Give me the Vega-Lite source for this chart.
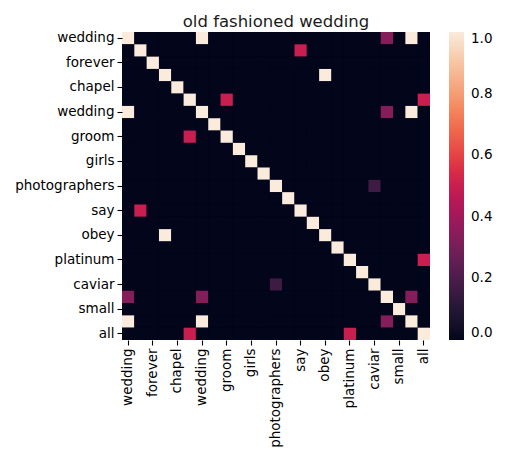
{
  "$schema": "https://vega.github.io/schema/vega-lite/v6.json",
  "autosize": {"type": "none"},
  "padding": {"left": 122, "top": 32, "right": 76, "bottom": 122},
  "width": 308,
  "height": 308,
  "background": "white",
  "config": {
    "font": "DejaVu Sans",
    "view": {"stroke": null, "fill": "#03051a"},
    "axis": {
      "labelFont": "DejaVu Sans",
      "labelFontSize": 13.5,
      "labelColor": "#000",
      "tickColor": "#000",
      "tickSize": 5,
      "tickWidth": 1.1,
      "domain": false,
      "grid": false,
      "title": null,
      "labelPadding": 3
    }
  },
  "title": {
    "text": "old fashioned wedding",
    "fontSize": 16.5,
    "fontWeight": "normal",
    "font": "DejaVu Sans",
    "color": "#1a1a1a",
    "baseline": "alphabetic",
    "offset": 8,
    "dy": 21
  },
  "data": {
    "values": [
      {"r":0,"c":0,"v":1},{"r":0,"c":1,"v":0},{"r":0,"c":2,"v":0},{"r":0,"c":3,"v":0},{"r":0,"c":4,"v":0},{"r":0,"c":5,"v":0},{"r":0,"c":6,"v":1},{"r":0,"c":7,"v":0},{"r":0,"c":8,"v":0},{"r":0,"c":9,"v":0},{"r":0,"c":10,"v":0},{"r":0,"c":11,"v":0},{"r":0,"c":12,"v":0},{"r":0,"c":13,"v":0},{"r":0,"c":14,"v":0},{"r":0,"c":15,"v":0},{"r":0,"c":16,"v":0},{"r":0,"c":17,"v":0},{"r":0,"c":18,"v":0},{"r":0,"c":19,"v":0},{"r":0,"c":20,"v":0},{"r":0,"c":21,"v":0.333},{"r":0,"c":22,"v":0},{"r":0,"c":23,"v":1},{"r":0,"c":24,"v":0},
      {"r":1,"c":0,"v":0},{"r":1,"c":1,"v":1},{"r":1,"c":2,"v":0},{"r":1,"c":3,"v":0},{"r":1,"c":4,"v":0},{"r":1,"c":5,"v":0},{"r":1,"c":6,"v":0},{"r":1,"c":7,"v":0},{"r":1,"c":8,"v":0},{"r":1,"c":9,"v":0},{"r":1,"c":10,"v":0},{"r":1,"c":11,"v":0},{"r":1,"c":12,"v":0},{"r":1,"c":13,"v":0},{"r":1,"c":14,"v":0.5},{"r":1,"c":15,"v":0},{"r":1,"c":16,"v":0},{"r":1,"c":17,"v":0},{"r":1,"c":18,"v":0},{"r":1,"c":19,"v":0},{"r":1,"c":20,"v":0},{"r":1,"c":21,"v":0},{"r":1,"c":22,"v":0},{"r":1,"c":23,"v":0},{"r":1,"c":24,"v":0},
      {"r":2,"c":0,"v":0},{"r":2,"c":1,"v":0},{"r":2,"c":2,"v":1},{"r":2,"c":3,"v":0},{"r":2,"c":4,"v":0},{"r":2,"c":5,"v":0},{"r":2,"c":6,"v":0},{"r":2,"c":7,"v":0},{"r":2,"c":8,"v":0},{"r":2,"c":9,"v":0},{"r":2,"c":10,"v":0},{"r":2,"c":11,"v":0},{"r":2,"c":12,"v":0},{"r":2,"c":13,"v":0},{"r":2,"c":14,"v":0},{"r":2,"c":15,"v":0},{"r":2,"c":16,"v":0},{"r":2,"c":17,"v":0},{"r":2,"c":18,"v":0},{"r":2,"c":19,"v":0},{"r":2,"c":20,"v":0},{"r":2,"c":21,"v":0},{"r":2,"c":22,"v":0},{"r":2,"c":23,"v":0},{"r":2,"c":24,"v":0},
      {"r":3,"c":0,"v":0},{"r":3,"c":1,"v":0},{"r":3,"c":2,"v":0},{"r":3,"c":3,"v":1},{"r":3,"c":4,"v":0},{"r":3,"c":5,"v":0},{"r":3,"c":6,"v":0},{"r":3,"c":7,"v":0},{"r":3,"c":8,"v":0},{"r":3,"c":9,"v":0},{"r":3,"c":10,"v":0},{"r":3,"c":11,"v":0},{"r":3,"c":12,"v":0},{"r":3,"c":13,"v":0},{"r":3,"c":14,"v":0},{"r":3,"c":15,"v":0},{"r":3,"c":16,"v":1},{"r":3,"c":17,"v":0},{"r":3,"c":18,"v":0},{"r":3,"c":19,"v":0},{"r":3,"c":20,"v":0},{"r":3,"c":21,"v":0},{"r":3,"c":22,"v":0},{"r":3,"c":23,"v":0},{"r":3,"c":24,"v":0},
      {"r":4,"c":0,"v":0},{"r":4,"c":1,"v":0},{"r":4,"c":2,"v":0},{"r":4,"c":3,"v":0},{"r":4,"c":4,"v":1},{"r":4,"c":5,"v":0},{"r":4,"c":6,"v":0},{"r":4,"c":7,"v":0},{"r":4,"c":8,"v":0},{"r":4,"c":9,"v":0},{"r":4,"c":10,"v":0},{"r":4,"c":11,"v":0},{"r":4,"c":12,"v":0},{"r":4,"c":13,"v":0},{"r":4,"c":14,"v":0},{"r":4,"c":15,"v":0},{"r":4,"c":16,"v":0},{"r":4,"c":17,"v":0},{"r":4,"c":18,"v":0},{"r":4,"c":19,"v":0},{"r":4,"c":20,"v":0},{"r":4,"c":21,"v":0},{"r":4,"c":22,"v":0},{"r":4,"c":23,"v":0},{"r":4,"c":24,"v":0},
      {"r":5,"c":0,"v":0},{"r":5,"c":1,"v":0},{"r":5,"c":2,"v":0},{"r":5,"c":3,"v":0},{"r":5,"c":4,"v":0},{"r":5,"c":5,"v":1},{"r":5,"c":6,"v":0},{"r":5,"c":7,"v":0},{"r":5,"c":8,"v":0.5},{"r":5,"c":9,"v":0},{"r":5,"c":10,"v":0},{"r":5,"c":11,"v":0},{"r":5,"c":12,"v":0},{"r":5,"c":13,"v":0},{"r":5,"c":14,"v":0},{"r":5,"c":15,"v":0},{"r":5,"c":16,"v":0},{"r":5,"c":17,"v":0},{"r":5,"c":18,"v":0},{"r":5,"c":19,"v":0},{"r":5,"c":20,"v":0},{"r":5,"c":21,"v":0},{"r":5,"c":22,"v":0},{"r":5,"c":23,"v":0},{"r":5,"c":24,"v":0.5},
      {"r":6,"c":0,"v":1},{"r":6,"c":1,"v":0},{"r":6,"c":2,"v":0},{"r":6,"c":3,"v":0},{"r":6,"c":4,"v":0},{"r":6,"c":5,"v":0},{"r":6,"c":6,"v":1},{"r":6,"c":7,"v":0},{"r":6,"c":8,"v":0},{"r":6,"c":9,"v":0},{"r":6,"c":10,"v":0},{"r":6,"c":11,"v":0},{"r":6,"c":12,"v":0},{"r":6,"c":13,"v":0},{"r":6,"c":14,"v":0},{"r":6,"c":15,"v":0},{"r":6,"c":16,"v":0},{"r":6,"c":17,"v":0},{"r":6,"c":18,"v":0},{"r":6,"c":19,"v":0},{"r":6,"c":20,"v":0},{"r":6,"c":21,"v":0.333},{"r":6,"c":22,"v":0},{"r":6,"c":23,"v":1},{"r":6,"c":24,"v":0},
      {"r":7,"c":0,"v":0},{"r":7,"c":1,"v":0},{"r":7,"c":2,"v":0},{"r":7,"c":3,"v":0},{"r":7,"c":4,"v":0},{"r":7,"c":5,"v":0},{"r":7,"c":6,"v":0},{"r":7,"c":7,"v":1},{"r":7,"c":8,"v":0},{"r":7,"c":9,"v":0},{"r":7,"c":10,"v":0},{"r":7,"c":11,"v":0},{"r":7,"c":12,"v":0},{"r":7,"c":13,"v":0},{"r":7,"c":14,"v":0},{"r":7,"c":15,"v":0},{"r":7,"c":16,"v":0},{"r":7,"c":17,"v":0},{"r":7,"c":18,"v":0},{"r":7,"c":19,"v":0},{"r":7,"c":20,"v":0},{"r":7,"c":21,"v":0},{"r":7,"c":22,"v":0},{"r":7,"c":23,"v":0},{"r":7,"c":24,"v":0},
      {"r":8,"c":0,"v":0},{"r":8,"c":1,"v":0},{"r":8,"c":2,"v":0},{"r":8,"c":3,"v":0},{"r":8,"c":4,"v":0},{"r":8,"c":5,"v":0.5},{"r":8,"c":6,"v":0},{"r":8,"c":7,"v":0},{"r":8,"c":8,"v":1},{"r":8,"c":9,"v":0},{"r":8,"c":10,"v":0},{"r":8,"c":11,"v":0},{"r":8,"c":12,"v":0},{"r":8,"c":13,"v":0},{"r":8,"c":14,"v":0},{"r":8,"c":15,"v":0},{"r":8,"c":16,"v":0},{"r":8,"c":17,"v":0},{"r":8,"c":18,"v":0},{"r":8,"c":19,"v":0},{"r":8,"c":20,"v":0},{"r":8,"c":21,"v":0},{"r":8,"c":22,"v":0},{"r":8,"c":23,"v":0},{"r":8,"c":24,"v":0},
      {"r":9,"c":0,"v":0},{"r":9,"c":1,"v":0},{"r":9,"c":2,"v":0},{"r":9,"c":3,"v":0},{"r":9,"c":4,"v":0},{"r":9,"c":5,"v":0},{"r":9,"c":6,"v":0},{"r":9,"c":7,"v":0},{"r":9,"c":8,"v":0},{"r":9,"c":9,"v":1},{"r":9,"c":10,"v":0},{"r":9,"c":11,"v":0},{"r":9,"c":12,"v":0},{"r":9,"c":13,"v":0},{"r":9,"c":14,"v":0},{"r":9,"c":15,"v":0},{"r":9,"c":16,"v":0},{"r":9,"c":17,"v":0},{"r":9,"c":18,"v":0},{"r":9,"c":19,"v":0},{"r":9,"c":20,"v":0},{"r":9,"c":21,"v":0},{"r":9,"c":22,"v":0},{"r":9,"c":23,"v":0},{"r":9,"c":24,"v":0},
      {"r":10,"c":0,"v":0},{"r":10,"c":1,"v":0},{"r":10,"c":2,"v":0},{"r":10,"c":3,"v":0},{"r":10,"c":4,"v":0},{"r":10,"c":5,"v":0},{"r":10,"c":6,"v":0},{"r":10,"c":7,"v":0},{"r":10,"c":8,"v":0},{"r":10,"c":9,"v":0},{"r":10,"c":10,"v":1},{"r":10,"c":11,"v":0},{"r":10,"c":12,"v":0},{"r":10,"c":13,"v":0},{"r":10,"c":14,"v":0},{"r":10,"c":15,"v":0},{"r":10,"c":16,"v":0},{"r":10,"c":17,"v":0},{"r":10,"c":18,"v":0},{"r":10,"c":19,"v":0},{"r":10,"c":20,"v":0},{"r":10,"c":21,"v":0},{"r":10,"c":22,"v":0},{"r":10,"c":23,"v":0},{"r":10,"c":24,"v":0},
      {"r":11,"c":0,"v":0},{"r":11,"c":1,"v":0},{"r":11,"c":2,"v":0},{"r":11,"c":3,"v":0},{"r":11,"c":4,"v":0},{"r":11,"c":5,"v":0},{"r":11,"c":6,"v":0},{"r":11,"c":7,"v":0},{"r":11,"c":8,"v":0},{"r":11,"c":9,"v":0},{"r":11,"c":10,"v":0},{"r":11,"c":11,"v":1},{"r":11,"c":12,"v":0},{"r":11,"c":13,"v":0},{"r":11,"c":14,"v":0},{"r":11,"c":15,"v":0},{"r":11,"c":16,"v":0},{"r":11,"c":17,"v":0},{"r":11,"c":18,"v":0},{"r":11,"c":19,"v":0},{"r":11,"c":20,"v":0},{"r":11,"c":21,"v":0},{"r":11,"c":22,"v":0},{"r":11,"c":23,"v":0},{"r":11,"c":24,"v":0},
      {"r":12,"c":0,"v":0},{"r":12,"c":1,"v":0},{"r":12,"c":2,"v":0},{"r":12,"c":3,"v":0},{"r":12,"c":4,"v":0},{"r":12,"c":5,"v":0},{"r":12,"c":6,"v":0},{"r":12,"c":7,"v":0},{"r":12,"c":8,"v":0},{"r":12,"c":9,"v":0},{"r":12,"c":10,"v":0},{"r":12,"c":11,"v":0},{"r":12,"c":12,"v":1},{"r":12,"c":13,"v":0},{"r":12,"c":14,"v":0},{"r":12,"c":15,"v":0},{"r":12,"c":16,"v":0},{"r":12,"c":17,"v":0},{"r":12,"c":18,"v":0},{"r":12,"c":19,"v":0},{"r":12,"c":20,"v":0.167},{"r":12,"c":21,"v":0},{"r":12,"c":22,"v":0},{"r":12,"c":23,"v":0},{"r":12,"c":24,"v":0},
      {"r":13,"c":0,"v":0},{"r":13,"c":1,"v":0},{"r":13,"c":2,"v":0},{"r":13,"c":3,"v":0},{"r":13,"c":4,"v":0},{"r":13,"c":5,"v":0},{"r":13,"c":6,"v":0},{"r":13,"c":7,"v":0},{"r":13,"c":8,"v":0},{"r":13,"c":9,"v":0},{"r":13,"c":10,"v":0},{"r":13,"c":11,"v":0},{"r":13,"c":12,"v":0},{"r":13,"c":13,"v":1},{"r":13,"c":14,"v":0},{"r":13,"c":15,"v":0},{"r":13,"c":16,"v":0},{"r":13,"c":17,"v":0},{"r":13,"c":18,"v":0},{"r":13,"c":19,"v":0},{"r":13,"c":20,"v":0},{"r":13,"c":21,"v":0},{"r":13,"c":22,"v":0},{"r":13,"c":23,"v":0},{"r":13,"c":24,"v":0},
      {"r":14,"c":0,"v":0},{"r":14,"c":1,"v":0.5},{"r":14,"c":2,"v":0},{"r":14,"c":3,"v":0},{"r":14,"c":4,"v":0},{"r":14,"c":5,"v":0},{"r":14,"c":6,"v":0},{"r":14,"c":7,"v":0},{"r":14,"c":8,"v":0},{"r":14,"c":9,"v":0},{"r":14,"c":10,"v":0},{"r":14,"c":11,"v":0},{"r":14,"c":12,"v":0},{"r":14,"c":13,"v":0},{"r":14,"c":14,"v":1},{"r":14,"c":15,"v":0},{"r":14,"c":16,"v":0},{"r":14,"c":17,"v":0},{"r":14,"c":18,"v":0},{"r":14,"c":19,"v":0},{"r":14,"c":20,"v":0},{"r":14,"c":21,"v":0},{"r":14,"c":22,"v":0},{"r":14,"c":23,"v":0},{"r":14,"c":24,"v":0},
      {"r":15,"c":0,"v":0},{"r":15,"c":1,"v":0},{"r":15,"c":2,"v":0},{"r":15,"c":3,"v":0},{"r":15,"c":4,"v":0},{"r":15,"c":5,"v":0},{"r":15,"c":6,"v":0},{"r":15,"c":7,"v":0},{"r":15,"c":8,"v":0},{"r":15,"c":9,"v":0},{"r":15,"c":10,"v":0},{"r":15,"c":11,"v":0},{"r":15,"c":12,"v":0},{"r":15,"c":13,"v":0},{"r":15,"c":14,"v":0},{"r":15,"c":15,"v":1},{"r":15,"c":16,"v":0},{"r":15,"c":17,"v":0},{"r":15,"c":18,"v":0},{"r":15,"c":19,"v":0},{"r":15,"c":20,"v":0},{"r":15,"c":21,"v":0},{"r":15,"c":22,"v":0},{"r":15,"c":23,"v":0},{"r":15,"c":24,"v":0},
      {"r":16,"c":0,"v":0},{"r":16,"c":1,"v":0},{"r":16,"c":2,"v":0},{"r":16,"c":3,"v":1},{"r":16,"c":4,"v":0},{"r":16,"c":5,"v":0},{"r":16,"c":6,"v":0},{"r":16,"c":7,"v":0},{"r":16,"c":8,"v":0},{"r":16,"c":9,"v":0},{"r":16,"c":10,"v":0},{"r":16,"c":11,"v":0},{"r":16,"c":12,"v":0},{"r":16,"c":13,"v":0},{"r":16,"c":14,"v":0},{"r":16,"c":15,"v":0},{"r":16,"c":16,"v":1},{"r":16,"c":17,"v":0},{"r":16,"c":18,"v":0},{"r":16,"c":19,"v":0},{"r":16,"c":20,"v":0},{"r":16,"c":21,"v":0},{"r":16,"c":22,"v":0},{"r":16,"c":23,"v":0},{"r":16,"c":24,"v":0},
      {"r":17,"c":0,"v":0},{"r":17,"c":1,"v":0},{"r":17,"c":2,"v":0},{"r":17,"c":3,"v":0},{"r":17,"c":4,"v":0},{"r":17,"c":5,"v":0},{"r":17,"c":6,"v":0},{"r":17,"c":7,"v":0},{"r":17,"c":8,"v":0},{"r":17,"c":9,"v":0},{"r":17,"c":10,"v":0},{"r":17,"c":11,"v":0},{"r":17,"c":12,"v":0},{"r":17,"c":13,"v":0},{"r":17,"c":14,"v":0},{"r":17,"c":15,"v":0},{"r":17,"c":16,"v":0},{"r":17,"c":17,"v":1},{"r":17,"c":18,"v":0},{"r":17,"c":19,"v":0},{"r":17,"c":20,"v":0},{"r":17,"c":21,"v":0},{"r":17,"c":22,"v":0},{"r":17,"c":23,"v":0},{"r":17,"c":24,"v":0},
      {"r":18,"c":0,"v":0},{"r":18,"c":1,"v":0},{"r":18,"c":2,"v":0},{"r":18,"c":3,"v":0},{"r":18,"c":4,"v":0},{"r":18,"c":5,"v":0},{"r":18,"c":6,"v":0},{"r":18,"c":7,"v":0},{"r":18,"c":8,"v":0},{"r":18,"c":9,"v":0},{"r":18,"c":10,"v":0},{"r":18,"c":11,"v":0},{"r":18,"c":12,"v":0},{"r":18,"c":13,"v":0},{"r":18,"c":14,"v":0},{"r":18,"c":15,"v":0},{"r":18,"c":16,"v":0},{"r":18,"c":17,"v":0},{"r":18,"c":18,"v":1},{"r":18,"c":19,"v":0},{"r":18,"c":20,"v":0},{"r":18,"c":21,"v":0},{"r":18,"c":22,"v":0},{"r":18,"c":23,"v":0},{"r":18,"c":24,"v":0.5},
      {"r":19,"c":0,"v":0},{"r":19,"c":1,"v":0},{"r":19,"c":2,"v":0},{"r":19,"c":3,"v":0},{"r":19,"c":4,"v":0},{"r":19,"c":5,"v":0},{"r":19,"c":6,"v":0},{"r":19,"c":7,"v":0},{"r":19,"c":8,"v":0},{"r":19,"c":9,"v":0},{"r":19,"c":10,"v":0},{"r":19,"c":11,"v":0},{"r":19,"c":12,"v":0},{"r":19,"c":13,"v":0},{"r":19,"c":14,"v":0},{"r":19,"c":15,"v":0},{"r":19,"c":16,"v":0},{"r":19,"c":17,"v":0},{"r":19,"c":18,"v":0},{"r":19,"c":19,"v":1},{"r":19,"c":20,"v":0},{"r":19,"c":21,"v":0},{"r":19,"c":22,"v":0},{"r":19,"c":23,"v":0},{"r":19,"c":24,"v":0},
      {"r":20,"c":0,"v":0},{"r":20,"c":1,"v":0},{"r":20,"c":2,"v":0},{"r":20,"c":3,"v":0},{"r":20,"c":4,"v":0},{"r":20,"c":5,"v":0},{"r":20,"c":6,"v":0},{"r":20,"c":7,"v":0},{"r":20,"c":8,"v":0},{"r":20,"c":9,"v":0},{"r":20,"c":10,"v":0},{"r":20,"c":11,"v":0},{"r":20,"c":12,"v":0.167},{"r":20,"c":13,"v":0},{"r":20,"c":14,"v":0},{"r":20,"c":15,"v":0},{"r":20,"c":16,"v":0},{"r":20,"c":17,"v":0},{"r":20,"c":18,"v":0},{"r":20,"c":19,"v":0},{"r":20,"c":20,"v":1},{"r":20,"c":21,"v":0},{"r":20,"c":22,"v":0},{"r":20,"c":23,"v":0},{"r":20,"c":24,"v":0},
      {"r":21,"c":0,"v":0.333},{"r":21,"c":1,"v":0},{"r":21,"c":2,"v":0},{"r":21,"c":3,"v":0},{"r":21,"c":4,"v":0},{"r":21,"c":5,"v":0},{"r":21,"c":6,"v":0.333},{"r":21,"c":7,"v":0},{"r":21,"c":8,"v":0},{"r":21,"c":9,"v":0},{"r":21,"c":10,"v":0},{"r":21,"c":11,"v":0},{"r":21,"c":12,"v":0},{"r":21,"c":13,"v":0},{"r":21,"c":14,"v":0},{"r":21,"c":15,"v":0},{"r":21,"c":16,"v":0},{"r":21,"c":17,"v":0},{"r":21,"c":18,"v":0},{"r":21,"c":19,"v":0},{"r":21,"c":20,"v":0},{"r":21,"c":21,"v":1},{"r":21,"c":22,"v":0},{"r":21,"c":23,"v":0.333},{"r":21,"c":24,"v":0},
      {"r":22,"c":0,"v":0},{"r":22,"c":1,"v":0},{"r":22,"c":2,"v":0},{"r":22,"c":3,"v":0},{"r":22,"c":4,"v":0},{"r":22,"c":5,"v":0},{"r":22,"c":6,"v":0},{"r":22,"c":7,"v":0},{"r":22,"c":8,"v":0},{"r":22,"c":9,"v":0},{"r":22,"c":10,"v":0},{"r":22,"c":11,"v":0},{"r":22,"c":12,"v":0},{"r":22,"c":13,"v":0},{"r":22,"c":14,"v":0},{"r":22,"c":15,"v":0},{"r":22,"c":16,"v":0},{"r":22,"c":17,"v":0},{"r":22,"c":18,"v":0},{"r":22,"c":19,"v":0},{"r":22,"c":20,"v":0},{"r":22,"c":21,"v":0},{"r":22,"c":22,"v":1},{"r":22,"c":23,"v":0},{"r":22,"c":24,"v":0},
      {"r":23,"c":0,"v":1},{"r":23,"c":1,"v":0},{"r":23,"c":2,"v":0},{"r":23,"c":3,"v":0},{"r":23,"c":4,"v":0},{"r":23,"c":5,"v":0},{"r":23,"c":6,"v":1},{"r":23,"c":7,"v":0},{"r":23,"c":8,"v":0},{"r":23,"c":9,"v":0},{"r":23,"c":10,"v":0},{"r":23,"c":11,"v":0},{"r":23,"c":12,"v":0},{"r":23,"c":13,"v":0},{"r":23,"c":14,"v":0},{"r":23,"c":15,"v":0},{"r":23,"c":16,"v":0},{"r":23,"c":17,"v":0},{"r":23,"c":18,"v":0},{"r":23,"c":19,"v":0},{"r":23,"c":20,"v":0},{"r":23,"c":21,"v":0.333},{"r":23,"c":22,"v":0},{"r":23,"c":23,"v":1},{"r":23,"c":24,"v":0},
      {"r":24,"c":0,"v":0},{"r":24,"c":1,"v":0},{"r":24,"c":2,"v":0},{"r":24,"c":3,"v":0},{"r":24,"c":4,"v":0},{"r":24,"c":5,"v":0.5},{"r":24,"c":6,"v":0},{"r":24,"c":7,"v":0},{"r":24,"c":8,"v":0},{"r":24,"c":9,"v":0},{"r":24,"c":10,"v":0},{"r":24,"c":11,"v":0},{"r":24,"c":12,"v":0},{"r":24,"c":13,"v":0},{"r":24,"c":14,"v":0},{"r":24,"c":15,"v":0},{"r":24,"c":16,"v":0},{"r":24,"c":17,"v":0},{"r":24,"c":18,"v":0.5},{"r":24,"c":19,"v":0},{"r":24,"c":20,"v":0},{"r":24,"c":21,"v":0},{"r":24,"c":22,"v":0},{"r":24,"c":23,"v":0},{"r":24,"c":24,"v":1}
    ]
  },
  "mark": {"type": "rect"},
  "encoding": {
    "x": {
      "field": "c",
      "type": "ordinal",
      "scale": {"paddingInner": 0, "paddingOuter": 0},
      "axis": {
        "orient": "bottom",
        "values": [0, 2, 4, 6, 8, 10, 12, 14, 16, 18, 20, 22, 24],
        "labelAngle": -90,
        "labelExpr": "['wedding','blessings','forever','obey','chapel','ring','wedding','bride','groom','flower','girls','church','photographers','parson','say','honor','obey','diamond','platinum','champagne','caviar','big','small','wedding','all'][datum.value]"
      }
    },
    "y": {
      "field": "r",
      "type": "ordinal",
      "scale": {"paddingInner": 0, "paddingOuter": 0},
      "axis": {
        "values": [0, 2, 4, 6, 8, 10, 12, 14, 16, 18, 20, 22, 24],
        "labelAngle": 0,
        "labelExpr": "['wedding','blessings','forever','obey','chapel','ring','wedding','bride','groom','flower','girls','church','photographers','parson','say','honor','obey','diamond','platinum','champagne','caviar','big','small','wedding','all'][datum.value]"
      }
    },
    "color": {
      "field": "v",
      "type": "quantitative",
      "scale": {
        "domain": [0, 0.142857, 0.285714, 0.428571, 0.571429, 0.714286, 0.857143, 1],
        "range": ["#03051a", "#35193e", "#701f57", "#ad1759", "#e13342", "#f37651", "#f6b48f", "#faebdd"]
      },
      "legend": {
        "type": "gradient",
        "title": null,
        "orient": "none",
        "legendX": 327,
        "legendY": 0,
        "direction": "vertical",
        "gradientLength": 308,
        "gradientThickness": 15,
        "gradientStrokeWidth": 0,
        "values": [0, 0.2, 0.4, 0.6, 0.8, 1],
        "format": ".1f",
        "labelFont": "DejaVu Sans",
        "labelFontSize": 13.5,
        "labelColor": "#000",
        "labelBaseline": "middle",
        "labelOverlap": false,
        "labelOffset": 7
      }
    }
  }
}
